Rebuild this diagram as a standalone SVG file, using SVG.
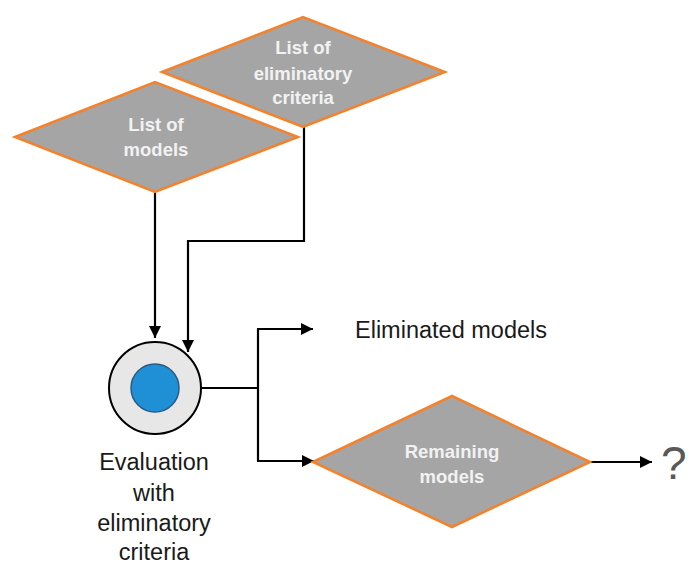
<svg xmlns="http://www.w3.org/2000/svg" width="688" height="565" viewBox="0 0 688 565">
<style>
.dia{fill:#a5a5a5;stroke:#f5822a;stroke-width:2.5;stroke-linejoin:miter}
.dt{font-family:"Liberation Sans",Arial,sans-serif;font-weight:bold;font-size:18.5px;fill:#f2f2f2;text-anchor:middle}
.lt{font-family:"Liberation Sans",Arial,sans-serif;font-size:23.5px;fill:#1a1a1a}
.ln{fill:none;stroke:#000;stroke-width:2.2}
</style>
<defs>
<marker id="ah" viewBox="0 0 10 10" refX="10" refY="5" markerWidth="5.5" markerHeight="5.5" markerUnits="strokeWidth" orient="auto">
<path d="M0,0 L10,5 L0,10 z" fill="#000"/>
</marker>
</defs>
<rect width="688" height="565" fill="#fff"/>
<g id="connectors">
<path class="ln" d="M155,192 V338" marker-end="url(#ah)"/>
<path class="ln" d="M304,127 V241 H188 V352" marker-end="url(#ah)"/>
<path class="ln" d="M201,388 H258 M258,329 V461"/>
<path class="ln" d="M257,329 H313" marker-end="url(#ah)"/>
<path class="ln" d="M257,461 H314" marker-end="url(#ah)"/>
<path class="ln" d="M590,462 H652" marker-end="url(#ah)"/>
</g>
<g id="criteria">
<polygon class="dia" points="162,72 303,17 445,72 303,127"/>
<text class="dt" x="303" y="54">List of</text>
<text class="dt" x="303" y="80">eliminatory</text>
<text class="dt" x="303" y="104">criteria</text>
</g>
<g id="models">
<polygon class="dia" points="15,137 155,82 298,137 155,192"/>
<text class="dt" x="156" y="131">List of</text>
<text class="dt" x="156" y="156">models</text>
</g>
<g id="evaluation">
<circle cx="155" cy="388" r="46" fill="#e7e7e7" stroke="#000" stroke-width="2"/>
<circle cx="155" cy="388" r="24" fill="#1f8fd6" stroke="#2b5a85" stroke-width="1.5"/>
<text class="lt" text-anchor="middle" x="154" y="470">Evaluation</text>
<text class="lt" text-anchor="middle" x="154" y="501">with</text>
<text class="lt" text-anchor="middle" x="154" y="531">eliminatory</text>
<text class="lt" text-anchor="middle" x="154" y="560">criteria</text>
</g>
<g id="eliminated">
<text class="lt" x="355" y="338">Eliminated models</text>
</g>
<g id="remaining">
<polygon class="dia" points="313,462 452,396 590,462 452,527"/>
<text class="dt" x="452" y="458">Remaining</text>
<text class="dt" x="452" y="483">models</text>
</g>
<g id="question">
<text x="661" y="479" font-family="'Liberation Sans',Arial,sans-serif" font-size="46" fill="#595959">?</text>
</g>
</svg>
